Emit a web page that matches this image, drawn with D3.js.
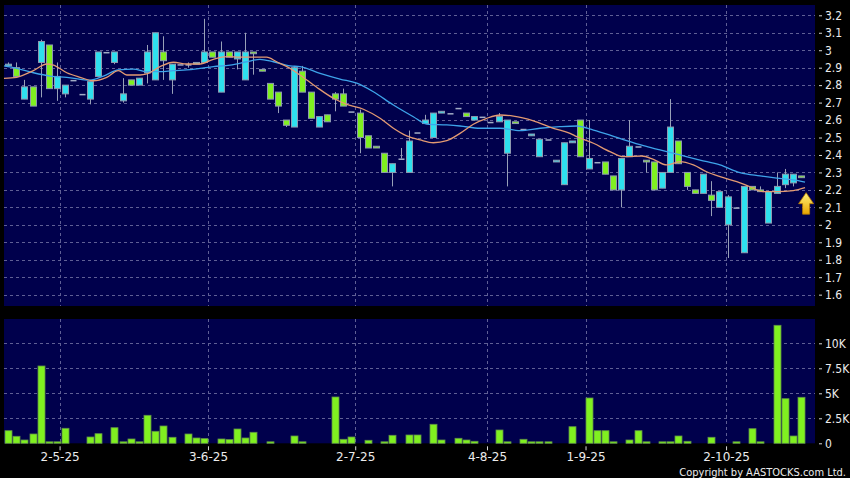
<!DOCTYPE html>
<html>
<head>
<meta charset="utf-8">
<script src="https://cdn.jsdelivr.net/npm/d3@7"></script>
<style>
  html, body { margin: 0; padding: 0; background: #000; }
  svg { display: block; }
</style>
</head>
<body>
<svg id="chart" width="850" height="478"></svg>
<script>
// daily candles, oldest first (one entry per trading slot)
const opens  = [2.91,2.90,2.72,2.79,2.93,3.03,2.78,2.75,2.83,2.75,2.72,2.85,2.99,2.93,2.71,2.83,2.80,2.87,2.83,2.99,
                2.83,2.92,2.92,2.92,2.93,2.99,2.76,2.99,2.95,2.83,2.99,2.89,2.81,2.76,2.60,2.56,2.88,2.76,2.56,2.63,
                2.75,2.75,2.65,2.64,2.51,2.45,2.41,2.30,2.38,2.30,2.53,2.58,2.50,2.64,2.64,2.67,2.64,2.60,2.62,2.59,
                2.59,2.41,2.59,2.55,2.51,2.39,2.49,2.36,2.23,2.47,2.60,2.32,2.36,2.36,2.28,2.20,2.39,2.45,2.37,2.36,
                2.21,2.30,2.48,2.30,2.20,2.18,2.17,2.10,2.00,2.10,1.84,2.22,2.20,2.01,2.18,2.23,2.24,2.28];
const highs  = [2.93,2.93,2.83,2.79,3.06,3.03,2.93,2.80,2.83,2.75,2.82,2.99,2.99,2.99,2.84,2.83,2.84,3.03,3.10,3.08,
                2.92,2.92,2.93,2.93,3.18,2.99,3.05,2.99,2.99,3.10,2.99,2.89,2.81,2.76,2.60,2.91,2.91,2.76,2.62,2.63,
                2.76,2.78,2.65,2.66,2.51,2.45,2.41,2.35,2.44,2.54,2.53,2.63,2.64,2.65,2.64,2.67,2.64,2.62,2.62,2.59,
                2.64,2.60,2.59,2.55,2.52,2.49,2.49,2.37,2.47,2.48,2.60,2.60,2.36,2.36,2.28,2.38,2.60,2.45,2.37,2.36,
                2.30,2.72,2.48,2.30,2.20,2.29,2.25,2.19,2.17,2.10,2.22,2.22,2.22,2.19,2.30,2.32,2.29,2.28];
const lows   = [2.91,2.85,2.72,2.68,2.73,2.78,2.71,2.73,2.83,2.75,2.69,2.85,2.99,2.92,2.70,2.80,2.80,2.81,2.83,2.83,
                2.75,2.92,2.90,2.92,2.93,2.96,2.76,2.96,2.89,2.83,2.86,2.88,2.72,2.64,2.56,2.56,2.76,2.61,2.56,2.59,
                2.65,2.68,2.65,2.41,2.44,2.44,2.30,2.22,2.38,2.30,2.53,2.58,2.50,2.64,2.64,2.67,2.62,2.60,2.62,2.59,
                2.59,2.22,2.58,2.55,2.51,2.39,2.49,2.36,2.23,2.47,2.39,2.32,2.36,2.29,2.20,2.10,2.39,2.45,2.30,2.20,
                2.21,2.30,2.35,2.20,2.18,2.18,2.05,2.10,1.81,2.10,1.84,2.20,2.19,2.01,2.18,2.21,2.22,2.27];
const closes = [2.92,2.85,2.79,2.68,3.05,2.78,2.85,2.80,2.83,2.75,2.82,2.99,2.99,2.99,2.75,2.80,2.84,2.99,3.10,2.94,
                2.92,2.92,2.92,2.93,2.99,2.96,2.99,2.96,2.99,2.99,2.98,2.88,2.72,2.68,2.57,2.90,2.76,2.61,2.62,2.59,
                2.72,2.68,2.65,2.50,2.44,2.44,2.30,2.35,2.38,2.48,2.53,2.60,2.64,2.65,2.64,2.67,2.62,2.62,2.62,2.59,
                2.62,2.60,2.58,2.55,2.52,2.49,2.49,2.37,2.47,2.48,2.39,2.38,2.36,2.29,2.20,2.38,2.45,2.45,2.36,2.20,
                2.30,2.56,2.35,2.22,2.18,2.29,2.14,2.19,2.16,2.10,2.22,2.20,2.19,2.19,2.22,2.29,2.29,2.27];
const volumes = [1260,700,330,930,7730,40,40,1500,0,0,630,960,0,1560,40,430,20,2800,1200,1730,
                 600,0,930,530,470,0,430,370,1430,530,1100,0,30,0,0,730,40,0,0,0,
                 4630,400,630,0,300,0,30,800,0,830,830,0,1900,330,0,500,330,200,0,0,
                 1330,30,0,400,20,20,20,0,0,1660,0,4530,1260,1260,30,0,330,1260,30,0,
                 100,30,730,200,0,0,600,0,0,20,0,1460,20,0,11800,4460,730,4600];

// moving averages as [slot, price]
const ma20Line = [[-0.5,2.91],[1.06,2.896],[3.1,2.871],[5.14,2.852],[7.18,2.845],[10.03,2.829],[11.66,2.852],[13.49,2.887],
  [15.33,2.892],[16.96,2.877],[18.59,2.877],[20.22,2.883],[21.85,2.887],[23.48,2.896],[25.11,2.906],[27.15,2.915],
  [29.2,2.934],[30.8,2.948],[32.45,2.934],[34.5,2.91],[35.7,2.906],[38.16,2.868],[40.6,2.835],[42.65,2.811],
  [44.68,2.762],[47.13,2.686],[49.57,2.619],[51.21,2.577],[53.66,2.572],[55.28,2.566],[57.73,2.553],[60.18,2.553],
  [62.62,2.539],[65.07,2.553],[67.5,2.562],[69.56,2.566],[71.6,2.543],[73.63,2.514],[75.67,2.482],[77.71,2.453],
  [79.74,2.429],[82.19,2.4],[84.64,2.371],[87.08,2.343],[89.53,2.299],[91.98,2.28],[94.02,2.267],[96.05,2.257],[97.48,2.244]];
const ma10Line = [[-0.5,2.839],[1.06,2.845],[3.1,2.883],[4.73,2.921],[5.55,2.915],[7.18,2.871],[8.81,2.845],[10.44,2.825],
  [12.07,2.845],[13.49,2.883],[14.51,2.858],[16.14,2.858],[16.96,2.864],[18.59,2.906],[20.22,2.931],[21.85,2.921],
  [23.48,2.921],[25.11,2.948],[26.74,2.963],[28.37,2.96],[30,2.96],[31.63,2.96],[32.85,2.934],[34.5,2.896],
  [35.7,2.858],[37.75,2.788],[39.79,2.725],[41.42,2.69],[43.46,2.662],[45.5,2.61],[47.13,2.553],[48.76,2.509],
  [50.39,2.486],[52.02,2.47],[53.66,2.482],[55.28,2.524],[56.91,2.576],[58.55,2.61],[60.18,2.629],[61.81,2.623],
  [64.26,2.596],[66.7,2.553],[68.74,2.524],[69.56,2.505],[71.6,2.467],[73.63,2.419],[75.26,2.39],[77.5,2.394],
  [78.93,2.375],[80.56,2.343],[82.19,2.362],[83.82,2.343],[85.45,2.304],[87.08,2.276],[89.13,2.247],[90.75,2.218],
  [92.38,2.19],[94.02,2.19],[96.05,2.196],[97.48,2.213]];

// date ticks (slot position) and labels
const dateTickSlots = [6.3, 24.45, 42.46, 58.58, 70.63, 87.82];
const dateTickLabels = ['2-5-25', '3-6-25', '2-7-25', '4-8-25', '1-9-25', '2-10-25'];
const priceTicks = [1.6,1.7,1.8,1.9,2.0,2.1,2.2,2.3,2.4,2.5,2.6,2.7,2.8,2.9,3.0,3.1,3.2];
const volumeTicks = [0, 2500, 5000, 7500, 10000];
const volumeTickLabels = ['0', '2.5K', '5K', '7.5K', '10K'];

const svg = d3.select('#chart');
const plotLeft = 4, plotRight = 815;
const priceTop = 5, priceBottom = 306;
const volTop = 319, volBottom = 443.3;

const n = closes.length;
const xScale = d3.scaleLinear().domain([-0.5, n + 0.7]).range([plotLeft, plotRight]);
const yPrice = d3.scaleLinear().domain([1.535, 3.259]).range([priceBottom, priceTop]);
const yVol = d3.scaleLinear().domain([0, 12430]).range([volBottom, volTop]);

const navy = '#00004c';
const gridColor = '#5f5f95';
const upColor = '#2ee0ee';
const downColor = '#80f020';
const edgeColor = '#8e9ab0';
const labelFont = 'DejaVu Sans, Verdana, sans-serif';
const condensedFont = 'DejaVu Sans Condensed, DejaVu Sans, sans-serif';

svg.append('rect').attr('width', 850).attr('height', 478).attr('fill', '#000');

// panels
svg.append('rect')
    .attr('x', plotLeft).attr('y', priceTop)
    .attr('width', plotRight - plotLeft).attr('height', priceBottom - priceTop)
    .attr('fill', navy);
svg.append('rect')
    .attr('x', plotLeft).attr('y', volTop)
    .attr('width', plotRight - plotLeft).attr('height', volBottom - volTop)
    .attr('fill', navy);

// grid lines
const grid = svg.append('g').attr('class', 'grid')
    .attr('stroke', gridColor).attr('stroke-width', 1).attr('stroke-dasharray', '3,3');
grid.selectAll('.hgrid').data(priceTicks).enter().append('line')
    .attr('class', 'hgrid')
    .attr('x1', plotLeft).attr('x2', plotRight)
    .attr('y1', d => Math.round(yPrice(d)) + 0.5).attr('y2', d => Math.round(yPrice(d)) + 0.5);
grid.selectAll('.vgrid-gap').data(volumeTicks.slice(1)).enter().append('line')
    .attr('class', 'vgrid-gap')
    .attr('x1', plotLeft).attr('x2', plotRight)
    .attr('y1', d => Math.round(yVol(d)) + 0.5).attr('y2', d => Math.round(yVol(d)) + 0.5);
dateTickSlots.forEach(s => {
  const gx = Math.round(xScale(s)) + 0.5;
  grid.append('line').attr('x1', gx).attr('x2', gx).attr('y1', priceTop).attr('y2', priceBottom);
  grid.append('line').attr('x1', gx).attr('x2', gx).attr('y1', volTop).attr('y2', volBottom);
});

// candles
const candles = d3.range(n).map(i => ({ i, o: opens[i], h: highs[i], l: lows[i], c: closes[i] }));
const candleG = svg.append('g').attr('class', 'candles');

candleG.selectAll('.wick').data(candles.filter(d => d.h > d.l)).enter().append('line')
    .attr('class', 'wick')
    .attr('x1', d => Math.round(xScale(d.i)) + 0.5).attr('x2', d => Math.round(xScale(d.i)) + 0.5)
    .attr('y1', d => yPrice(d.h)).attr('y2', d => yPrice(d.l))
    .attr('stroke', '#98a0b8').attr('stroke-width', 1);

candleG.selectAll('.body').data(candles).enter().append('rect')
    .attr('class', 'body')
    .attr('x', d => Math.round(xScale(d.i)) - 2.5)
    .attr('width', 6)
    .attr('y', d => yPrice(Math.max(d.o, d.c)))
    .attr('height', d => Math.max(1.5, Math.abs(yPrice(d.o) - yPrice(d.c))))
    .attr('fill', d => d.c > d.o ? upColor : (d.c < d.o ? downColor : '#a2acc6'))
    .attr('stroke', d => d.c === d.o ? 'none' : edgeColor)
    .attr('stroke-width', 1);

// moving averages
const maLine = d3.line()
    .x(d => xScale(d[0]))
    .y(d => yPrice(d[1]))
    .curve(d3.curveMonotoneX);
svg.append('path').datum(ma20Line)
    .attr('d', maLine).attr('fill', 'none')
    .attr('stroke', '#3ea4ea').attr('stroke-width', 1.3);
svg.append('path').datum(ma10Line)
    .attr('d', maLine).attr('fill', 'none')
    .attr('stroke', '#e39a72').attr('stroke-width', 1.3);

// arrow next to the last candle
const defs = svg.append('defs');
const grad = defs.append('linearGradient').attr('id', 'arrowGrad')
    .attr('x1', 0).attr('y1', 0).attr('x2', 0).attr('y2', 1);
grad.append('stop').attr('offset', '0%').attr('stop-color', '#fff27a');
grad.append('stop').attr('offset', '100%').attr('stop-color', '#e8a400');
svg.append('path')
    .attr('transform', `translate(${xScale(n - 1) + 5},${yPrice(closes[n - 1]) + 15})`)
    .attr('d', 'M0,0 L7.5,11 L3.5,11 L3.5,21.5 L-3.5,21.5 L-3.5,11 L-7.5,11 Z')
    .attr('fill', 'url(#arrowGrad)')
    .attr('stroke', '#b87a00').attr('stroke-width', 0.8);

// volume bars
svg.append('g').attr('class', 'volume')
  .selectAll('rect').data(volumes.map((v, i) => ({ i, v })).filter(d => d.v > 0)).enter().append('rect')
    .attr('x', d => Math.round(xScale(d.i)) - 3)
    .attr('width', 7)
    .attr('y', d => Math.min(yVol(d.v), volBottom - 1.5))
    .attr('height', d => Math.max(1.5, volBottom - yVol(d.v)))
    .attr('fill', downColor)
    .attr('stroke', '#5f8f48').attr('stroke-width', 0.8);

// right axes
const priceAxis = d3.axisRight(yPrice)
    .tickValues(priceTicks)
    .tickFormat(d => String(+d.toFixed(1)))
    .tickSize(3).tickPadding(3);
const priceAxisG = svg.append('g').attr('transform', `translate(819,0)`).call(priceAxis);

const volAxis = d3.axisRight(yVol)
    .tickValues(volumeTicks)
    .tickFormat((d, i) => volumeTickLabels[i])
    .tickSize(3).tickPadding(3);
const volAxisG = svg.append('g').attr('transform', `translate(819,0)`).call(volAxis);

// bottom date axis
const dateAxis = d3.axisBottom(xScale)
    .tickValues(dateTickSlots)
    .tickFormat((d, i) => dateTickLabels[i])
    .tickSize(4).tickPadding(2);
const dateAxisG = svg.append('g').attr('transform', `translate(0,${volBottom + 3})`).call(dateAxis);

[priceAxisG, volAxisG, dateAxisG].forEach(g => {
  g.select('.domain').remove();
  g.selectAll('.tick line').attr('stroke', '#d8d8d8');
  g.selectAll('.tick text')
    .attr('fill', '#ececec')
    .style('font-family', labelFont)
    .style('font-size', '12px');
});
priceAxisG.selectAll('.tick text').style('font-family', condensedFont).style('font-size', '12px');
volAxisG.selectAll('.tick text').style('font-family', condensedFont).style('font-size', '12px');

svg.append('text')
    .attr('x', 846).attr('y', 475.5)
    .attr('text-anchor', 'end')
    .attr('fill', '#ececec')
    .style('font-family', condensedFont)
    .style('font-size', '11px')
    .text('Copyright by AASTOCKS.com Ltd.');
</script>
</body>
</html>
